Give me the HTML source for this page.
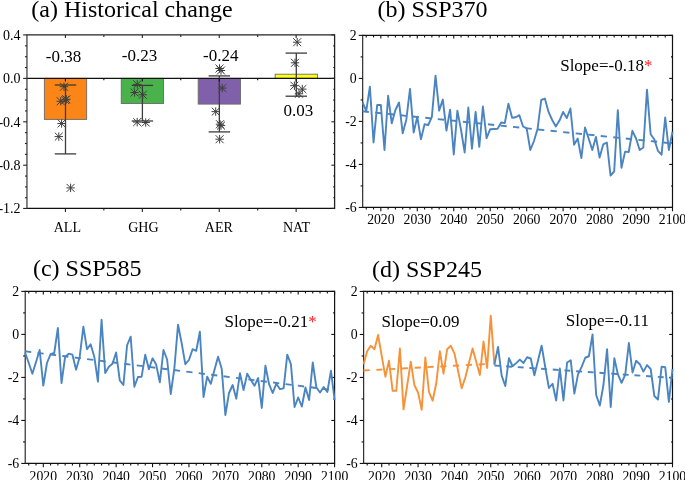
<!DOCTYPE html>
<html><head><meta charset="utf-8"><style>
html,body{margin:0;padding:0;background:#fff;}
body{width:685px;height:480px;overflow:hidden;}
svg{display:block;font-family:"Liberation Serif", serif;will-change:transform;}
</style></head><body>
<svg width="685" height="480" viewBox="0 0 685 480">
<rect x="44.35" y="78.40" width="42.30" height="41.00" fill="#fb8617" stroke="#6a6a6a" stroke-width="0.9"/>
<rect x="121.25" y="78.40" width="42.30" height="25.10" fill="#4ab24a" stroke="#6a6a6a" stroke-width="0.9"/>
<rect x="198.20" y="78.40" width="42.30" height="25.70" fill="#8060aa" stroke="#6a6a6a" stroke-width="0.9"/>
<rect x="275.15" y="74.20" width="42.30" height="4.20" fill="#ffff1a" stroke="#6a6a6a" stroke-width="0.9"/>
<line x1="26.95" y1="78.40" x2="334.60" y2="78.40" stroke="#111" stroke-width="1.2" />
<line x1="65.50" y1="85.00" x2="65.50" y2="153.90" stroke="#3c3c3c" stroke-width="1.3" />
<line x1="54.80" y1="85.00" x2="76.20" y2="85.00" stroke="#3c3c3c" stroke-width="1.3" />
<line x1="54.80" y1="153.90" x2="76.20" y2="153.90" stroke="#3c3c3c" stroke-width="1.3" />
<line x1="142.40" y1="85.40" x2="142.40" y2="121.00" stroke="#3c3c3c" stroke-width="1.3" />
<line x1="131.70" y1="85.40" x2="153.10" y2="85.40" stroke="#3c3c3c" stroke-width="1.3" />
<line x1="131.70" y1="121.00" x2="153.10" y2="121.00" stroke="#3c3c3c" stroke-width="1.3" />
<line x1="219.35" y1="75.90" x2="219.35" y2="131.90" stroke="#3c3c3c" stroke-width="1.3" />
<line x1="208.65" y1="75.90" x2="230.05" y2="75.90" stroke="#3c3c3c" stroke-width="1.3" />
<line x1="208.65" y1="131.90" x2="230.05" y2="131.90" stroke="#3c3c3c" stroke-width="1.3" />
<line x1="296.30" y1="53.10" x2="296.30" y2="96.20" stroke="#3c3c3c" stroke-width="1.3" />
<line x1="285.60" y1="53.10" x2="307.00" y2="53.10" stroke="#3c3c3c" stroke-width="1.3" />
<line x1="285.60" y1="96.20" x2="307.00" y2="96.20" stroke="#3c3c3c" stroke-width="1.3" />
<path d="M59.80 86.70H68.20M64.00 82.50V90.90M60.01 82.71L67.99 90.69M60.01 90.69L67.99 82.71" stroke="#3f3f3f" stroke-width="1" fill="none"/>
<path d="M56.55 101.25H64.95M60.75 97.05V105.45M56.76 97.26L64.74 105.24M56.76 105.24L64.74 97.26" stroke="#3f3f3f" stroke-width="1" fill="none"/>
<path d="M61.10 100.00H69.50M65.30 95.80V104.20M61.31 96.01L69.29 103.99M61.31 103.99L69.29 96.01" stroke="#3f3f3f" stroke-width="1" fill="none"/>
<path d="M62.10 99.30H70.50M66.30 95.10V103.50M62.31 95.31L70.29 103.29M62.31 103.29L70.29 95.31" stroke="#3f3f3f" stroke-width="1" fill="none"/>
<path d="M57.40 123.50H65.80M61.60 119.30V127.70M57.61 119.51L65.59 127.49M57.61 127.49L65.59 119.51" stroke="#3f3f3f" stroke-width="1" fill="none"/>
<path d="M54.60 136.60H63.00M58.80 132.40V140.80M54.81 132.61L62.79 140.59M54.81 140.59L62.79 132.61" stroke="#3f3f3f" stroke-width="1" fill="none"/>
<path d="M66.40 187.90H74.80M70.60 183.70V192.10M66.61 183.91L74.59 191.89M66.61 191.89L74.59 183.91" stroke="#3f3f3f" stroke-width="1" fill="none"/>
<path d="M133.05 84.40H141.45M137.25 80.20V88.60M133.26 80.41L141.24 88.39M133.26 88.39L141.24 80.41" stroke="#3f3f3f" stroke-width="1" fill="none"/>
<path d="M130.40 92.50H138.80M134.60 88.30V96.70M130.61 88.51L138.59 96.49M130.61 96.49L138.59 88.51" stroke="#3f3f3f" stroke-width="1" fill="none"/>
<path d="M138.55 94.75H146.95M142.75 90.55V98.95M138.76 90.76L146.74 98.74M138.76 98.74L146.74 90.76" stroke="#3f3f3f" stroke-width="1" fill="none"/>
<path d="M133.00 122.10H141.40M137.20 117.90V126.30M133.21 118.11L141.19 126.09M133.21 126.09L141.19 118.11" stroke="#3f3f3f" stroke-width="1" fill="none"/>
<path d="M141.50 122.50H149.90M145.70 118.30V126.70M141.71 118.51L149.69 126.49M141.71 126.49L149.69 118.51" stroke="#3f3f3f" stroke-width="1" fill="none"/>
<path d="M215.30 68.50H223.70M219.50 64.30V72.70M215.51 64.51L223.49 72.49M215.51 72.49L223.49 64.51" stroke="#3f3f3f" stroke-width="1" fill="none"/>
<path d="M216.80 70.50H225.20M221.00 66.30V74.70M217.01 66.51L224.99 74.49M217.01 74.49L224.99 66.51" stroke="#3f3f3f" stroke-width="1" fill="none"/>
<path d="M218.10 88.10H226.50M222.30 83.90V92.30M218.31 84.11L226.29 92.09M218.31 92.09L226.29 84.11" stroke="#3f3f3f" stroke-width="1" fill="none"/>
<path d="M211.50 111.60H219.90M215.70 107.40V115.80M211.71 107.61L219.69 115.59M211.71 115.59L219.69 107.61" stroke="#3f3f3f" stroke-width="1" fill="none"/>
<path d="M215.80 124.20H224.20M220.00 120.00V128.40M216.01 120.21L223.99 128.19M216.01 128.19L223.99 120.21" stroke="#3f3f3f" stroke-width="1" fill="none"/>
<path d="M216.80 125.60H225.20M221.00 121.40V129.80M217.01 121.61L224.99 129.59M217.01 129.59L224.99 121.61" stroke="#3f3f3f" stroke-width="1" fill="none"/>
<path d="M215.40 139.20H223.80M219.60 135.00V143.40M215.61 135.21L223.59 143.19M215.61 143.19L223.59 135.21" stroke="#3f3f3f" stroke-width="1" fill="none"/>
<path d="M293.00 42.20H301.40M297.20 38.00V46.40M293.21 38.21L301.19 46.19M293.21 46.19L301.19 38.21" stroke="#3f3f3f" stroke-width="1" fill="none"/>
<path d="M290.80 62.80H299.20M295.00 58.60V67.00M291.01 58.81L298.99 66.79M291.01 66.79L298.99 58.81" stroke="#3f3f3f" stroke-width="1" fill="none"/>
<path d="M290.20 85.70H298.60M294.40 81.50V89.90M290.41 81.71L298.39 89.69M290.41 89.69L298.39 81.71" stroke="#3f3f3f" stroke-width="1" fill="none"/>
<path d="M298.10 89.10H306.50M302.30 84.90V93.30M298.31 85.11L306.29 93.09M298.31 93.09L306.29 85.11" stroke="#3f3f3f" stroke-width="1" fill="none"/>
<path d="M294.80 93.80H303.20M299.00 89.60V98.00M295.01 89.81L302.99 97.79M295.01 97.79L302.99 89.81" stroke="#3f3f3f" stroke-width="1" fill="none"/>
<line x1="26.95" y1="34.90" x2="334.60" y2="34.90" stroke="#222" stroke-width="1.3" />
<line x1="26.95" y1="208.45" x2="334.60" y2="208.45" stroke="#111" stroke-width="1.3" />
<line x1="26.95" y1="34.30" x2="26.95" y2="209.05" stroke="#444" stroke-width="1.3" />
<line x1="334.60" y1="34.30" x2="334.60" y2="209.05" stroke="#222" stroke-width="1.3" />
<line x1="23.15" y1="34.90" x2="26.95" y2="34.90" stroke="#222" stroke-width="1.1" />
<line x1="331.40" y1="34.90" x2="334.60" y2="34.90" stroke="#222" stroke-width="1.1" />
<line x1="24.95" y1="45.85" x2="26.95" y2="45.85" stroke="#222" stroke-width="1.1" />
<line x1="333.20" y1="45.85" x2="334.60" y2="45.85" stroke="#222" stroke-width="1.1" />
<line x1="24.95" y1="56.70" x2="26.95" y2="56.70" stroke="#222" stroke-width="1.1" />
<line x1="333.20" y1="56.70" x2="334.60" y2="56.70" stroke="#222" stroke-width="1.1" />
<line x1="24.95" y1="67.55" x2="26.95" y2="67.55" stroke="#222" stroke-width="1.1" />
<line x1="333.20" y1="67.55" x2="334.60" y2="67.55" stroke="#222" stroke-width="1.1" />
<line x1="23.15" y1="78.40" x2="26.95" y2="78.40" stroke="#222" stroke-width="1.1" />
<line x1="331.40" y1="78.40" x2="334.60" y2="78.40" stroke="#222" stroke-width="1.1" />
<line x1="24.95" y1="89.25" x2="26.95" y2="89.25" stroke="#222" stroke-width="1.1" />
<line x1="333.20" y1="89.25" x2="334.60" y2="89.25" stroke="#222" stroke-width="1.1" />
<line x1="24.95" y1="100.10" x2="26.95" y2="100.10" stroke="#222" stroke-width="1.1" />
<line x1="333.20" y1="100.10" x2="334.60" y2="100.10" stroke="#222" stroke-width="1.1" />
<line x1="24.95" y1="110.95" x2="26.95" y2="110.95" stroke="#222" stroke-width="1.1" />
<line x1="333.20" y1="110.95" x2="334.60" y2="110.95" stroke="#222" stroke-width="1.1" />
<line x1="23.15" y1="121.80" x2="26.95" y2="121.80" stroke="#222" stroke-width="1.1" />
<line x1="331.40" y1="121.80" x2="334.60" y2="121.80" stroke="#222" stroke-width="1.1" />
<line x1="24.95" y1="132.65" x2="26.95" y2="132.65" stroke="#222" stroke-width="1.1" />
<line x1="333.20" y1="132.65" x2="334.60" y2="132.65" stroke="#222" stroke-width="1.1" />
<line x1="24.95" y1="143.50" x2="26.95" y2="143.50" stroke="#222" stroke-width="1.1" />
<line x1="333.20" y1="143.50" x2="334.60" y2="143.50" stroke="#222" stroke-width="1.1" />
<line x1="24.95" y1="154.35" x2="26.95" y2="154.35" stroke="#222" stroke-width="1.1" />
<line x1="333.20" y1="154.35" x2="334.60" y2="154.35" stroke="#222" stroke-width="1.1" />
<line x1="23.15" y1="165.20" x2="26.95" y2="165.20" stroke="#222" stroke-width="1.1" />
<line x1="331.40" y1="165.20" x2="334.60" y2="165.20" stroke="#222" stroke-width="1.1" />
<line x1="24.95" y1="176.05" x2="26.95" y2="176.05" stroke="#222" stroke-width="1.1" />
<line x1="333.20" y1="176.05" x2="334.60" y2="176.05" stroke="#222" stroke-width="1.1" />
<line x1="24.95" y1="186.90" x2="26.95" y2="186.90" stroke="#222" stroke-width="1.1" />
<line x1="333.20" y1="186.90" x2="334.60" y2="186.90" stroke="#222" stroke-width="1.1" />
<line x1="24.95" y1="197.75" x2="26.95" y2="197.75" stroke="#222" stroke-width="1.1" />
<line x1="333.20" y1="197.75" x2="334.60" y2="197.75" stroke="#222" stroke-width="1.1" />
<line x1="23.15" y1="208.45" x2="26.95" y2="208.45" stroke="#222" stroke-width="1.1" />
<line x1="331.40" y1="208.45" x2="334.60" y2="208.45" stroke="#222" stroke-width="1.1" />
<line x1="65.41" y1="208.45" x2="65.41" y2="212.05" stroke="#222" stroke-width="1.1" />
<line x1="65.41" y1="34.90" x2="65.41" y2="37.90" stroke="#222" stroke-width="1.1" />
<line x1="65.41" y1="78.40" x2="65.41" y2="81.60" stroke="#111" stroke-width="1.1" />
<line x1="142.32" y1="208.45" x2="142.32" y2="212.05" stroke="#222" stroke-width="1.1" />
<line x1="142.32" y1="34.90" x2="142.32" y2="37.90" stroke="#222" stroke-width="1.1" />
<line x1="142.32" y1="78.40" x2="142.32" y2="81.60" stroke="#111" stroke-width="1.1" />
<line x1="219.23" y1="208.45" x2="219.23" y2="212.05" stroke="#222" stroke-width="1.1" />
<line x1="219.23" y1="34.90" x2="219.23" y2="37.90" stroke="#222" stroke-width="1.1" />
<line x1="219.23" y1="78.40" x2="219.23" y2="81.60" stroke="#111" stroke-width="1.1" />
<line x1="296.14" y1="208.45" x2="296.14" y2="212.05" stroke="#222" stroke-width="1.1" />
<line x1="296.14" y1="34.90" x2="296.14" y2="37.90" stroke="#222" stroke-width="1.1" />
<line x1="296.14" y1="78.40" x2="296.14" y2="81.60" stroke="#111" stroke-width="1.1" />
<line x1="103.86" y1="208.45" x2="103.86" y2="210.45" stroke="#222" stroke-width="1.1" />
<line x1="103.86" y1="34.90" x2="103.86" y2="36.90" stroke="#222" stroke-width="1.1" />
<line x1="103.86" y1="78.40" x2="103.86" y2="80.20" stroke="#111" stroke-width="1.1" />
<line x1="180.78" y1="208.45" x2="180.78" y2="210.45" stroke="#222" stroke-width="1.1" />
<line x1="180.78" y1="34.90" x2="180.78" y2="36.90" stroke="#222" stroke-width="1.1" />
<line x1="180.78" y1="78.40" x2="180.78" y2="80.20" stroke="#111" stroke-width="1.1" />
<line x1="257.69" y1="208.45" x2="257.69" y2="210.45" stroke="#222" stroke-width="1.1" />
<line x1="257.69" y1="34.90" x2="257.69" y2="36.90" stroke="#222" stroke-width="1.1" />
<line x1="257.69" y1="78.40" x2="257.69" y2="80.20" stroke="#111" stroke-width="1.1" />
<text x="20.60" y="39.60" font-size="14" text-anchor="end" fill="#000" >0.4</text>
<text x="20.60" y="83.10" font-size="14" text-anchor="end" fill="#000" >0.0</text>
<text x="20.60" y="126.50" font-size="14" text-anchor="end" fill="#000" >-0.4</text>
<text x="20.60" y="169.90" font-size="14" text-anchor="end" fill="#000" >-0.8</text>
<text x="20.60" y="213.15" font-size="14" text-anchor="end" fill="#000" >-1.2</text>
<text x="67.35" y="232.20" font-size="14" text-anchor="middle" fill="#000" >ALL</text>
<text x="143.40" y="232.20" font-size="14" text-anchor="middle" fill="#000" >GHG</text>
<text x="218.85" y="232.20" font-size="14" text-anchor="middle" fill="#000" >AER</text>
<text x="296.50" y="232.20" font-size="14" text-anchor="middle" fill="#000" >NAT</text>
<text x="63.45" y="61.60" font-size="17" text-anchor="middle" fill="#000" >-0.38</text>
<text x="139.45" y="61.30" font-size="17" text-anchor="middle" fill="#000" >-0.23</text>
<text x="220.75" y="61.10" font-size="17" text-anchor="middle" fill="#000" >-0.24</text>
<text x="298.40" y="115.80" font-size="17" text-anchor="middle" fill="#000" >0.03</text>
<text x="31.30" y="16.60" font-size="24" text-anchor="start" fill="#000" >(a) Historical change</text>
<line x1="362.60" y1="35.40" x2="672.50" y2="35.40" stroke="#111" stroke-width="1.2" />
<line x1="362.60" y1="207.45" x2="672.50" y2="207.45" stroke="#111" stroke-width="1.2" />
<line x1="362.70" y1="34.80" x2="362.70" y2="208.05" stroke="#1a1a1a" stroke-width="1.1" />
<line x1="672.50" y1="34.80" x2="672.50" y2="208.05" stroke="#111" stroke-width="1.2" />
<line x1="358.80" y1="35.40" x2="362.60" y2="35.40" stroke="#111" stroke-width="1.1" />
<line x1="669.20" y1="35.40" x2="672.50" y2="35.40" stroke="#111" stroke-width="1.1" />
<line x1="360.60" y1="56.91" x2="362.60" y2="56.91" stroke="#111" stroke-width="1.1" />
<line x1="671.00" y1="56.91" x2="672.50" y2="56.91" stroke="#111" stroke-width="1.1" />
<line x1="358.80" y1="78.41" x2="362.60" y2="78.41" stroke="#111" stroke-width="1.1" />
<line x1="669.20" y1="78.41" x2="672.50" y2="78.41" stroke="#111" stroke-width="1.1" />
<line x1="360.60" y1="99.92" x2="362.60" y2="99.92" stroke="#111" stroke-width="1.1" />
<line x1="671.00" y1="99.92" x2="672.50" y2="99.92" stroke="#111" stroke-width="1.1" />
<line x1="358.80" y1="121.42" x2="362.60" y2="121.42" stroke="#111" stroke-width="1.1" />
<line x1="669.20" y1="121.42" x2="672.50" y2="121.42" stroke="#111" stroke-width="1.1" />
<line x1="360.60" y1="142.93" x2="362.60" y2="142.93" stroke="#111" stroke-width="1.1" />
<line x1="671.00" y1="142.93" x2="672.50" y2="142.93" stroke="#111" stroke-width="1.1" />
<line x1="358.80" y1="164.44" x2="362.60" y2="164.44" stroke="#111" stroke-width="1.1" />
<line x1="669.20" y1="164.44" x2="672.50" y2="164.44" stroke="#111" stroke-width="1.1" />
<line x1="360.60" y1="185.94" x2="362.60" y2="185.94" stroke="#111" stroke-width="1.1" />
<line x1="671.00" y1="185.94" x2="672.50" y2="185.94" stroke="#111" stroke-width="1.1" />
<line x1="358.80" y1="207.45" x2="362.60" y2="207.45" stroke="#111" stroke-width="1.1" />
<line x1="669.20" y1="207.45" x2="672.50" y2="207.45" stroke="#111" stroke-width="1.1" />
<line x1="366.25" y1="207.45" x2="366.25" y2="209.45" stroke="#111" stroke-width="1.1" />
<line x1="366.25" y1="35.40" x2="366.25" y2="37.40" stroke="#111" stroke-width="1.1" />
<line x1="373.54" y1="207.45" x2="373.54" y2="209.45" stroke="#111" stroke-width="1.1" />
<line x1="373.54" y1="35.40" x2="373.54" y2="37.40" stroke="#111" stroke-width="1.1" />
<line x1="380.83" y1="207.45" x2="380.83" y2="211.25" stroke="#111" stroke-width="1.1" />
<line x1="380.83" y1="35.40" x2="380.83" y2="38.40" stroke="#111" stroke-width="1.1" />
<line x1="388.12" y1="207.45" x2="388.12" y2="209.45" stroke="#111" stroke-width="1.1" />
<line x1="388.12" y1="35.40" x2="388.12" y2="37.40" stroke="#111" stroke-width="1.1" />
<line x1="395.41" y1="207.45" x2="395.41" y2="209.45" stroke="#111" stroke-width="1.1" />
<line x1="395.41" y1="35.40" x2="395.41" y2="37.40" stroke="#111" stroke-width="1.1" />
<line x1="402.70" y1="207.45" x2="402.70" y2="209.45" stroke="#111" stroke-width="1.1" />
<line x1="402.70" y1="35.40" x2="402.70" y2="37.40" stroke="#111" stroke-width="1.1" />
<line x1="410.00" y1="207.45" x2="410.00" y2="209.45" stroke="#111" stroke-width="1.1" />
<line x1="410.00" y1="35.40" x2="410.00" y2="37.40" stroke="#111" stroke-width="1.1" />
<line x1="417.29" y1="207.45" x2="417.29" y2="211.25" stroke="#111" stroke-width="1.1" />
<line x1="417.29" y1="35.40" x2="417.29" y2="38.40" stroke="#111" stroke-width="1.1" />
<line x1="424.58" y1="207.45" x2="424.58" y2="209.45" stroke="#111" stroke-width="1.1" />
<line x1="424.58" y1="35.40" x2="424.58" y2="37.40" stroke="#111" stroke-width="1.1" />
<line x1="431.87" y1="207.45" x2="431.87" y2="209.45" stroke="#111" stroke-width="1.1" />
<line x1="431.87" y1="35.40" x2="431.87" y2="37.40" stroke="#111" stroke-width="1.1" />
<line x1="439.16" y1="207.45" x2="439.16" y2="209.45" stroke="#111" stroke-width="1.1" />
<line x1="439.16" y1="35.40" x2="439.16" y2="37.40" stroke="#111" stroke-width="1.1" />
<line x1="446.46" y1="207.45" x2="446.46" y2="209.45" stroke="#111" stroke-width="1.1" />
<line x1="446.46" y1="35.40" x2="446.46" y2="37.40" stroke="#111" stroke-width="1.1" />
<line x1="453.75" y1="207.45" x2="453.75" y2="211.25" stroke="#111" stroke-width="1.1" />
<line x1="453.75" y1="35.40" x2="453.75" y2="38.40" stroke="#111" stroke-width="1.1" />
<line x1="461.04" y1="207.45" x2="461.04" y2="209.45" stroke="#111" stroke-width="1.1" />
<line x1="461.04" y1="35.40" x2="461.04" y2="37.40" stroke="#111" stroke-width="1.1" />
<line x1="468.33" y1="207.45" x2="468.33" y2="209.45" stroke="#111" stroke-width="1.1" />
<line x1="468.33" y1="35.40" x2="468.33" y2="37.40" stroke="#111" stroke-width="1.1" />
<line x1="475.62" y1="207.45" x2="475.62" y2="209.45" stroke="#111" stroke-width="1.1" />
<line x1="475.62" y1="35.40" x2="475.62" y2="37.40" stroke="#111" stroke-width="1.1" />
<line x1="482.91" y1="207.45" x2="482.91" y2="209.45" stroke="#111" stroke-width="1.1" />
<line x1="482.91" y1="35.40" x2="482.91" y2="37.40" stroke="#111" stroke-width="1.1" />
<line x1="490.21" y1="207.45" x2="490.21" y2="211.25" stroke="#111" stroke-width="1.1" />
<line x1="490.21" y1="35.40" x2="490.21" y2="38.40" stroke="#111" stroke-width="1.1" />
<line x1="497.50" y1="207.45" x2="497.50" y2="209.45" stroke="#111" stroke-width="1.1" />
<line x1="497.50" y1="35.40" x2="497.50" y2="37.40" stroke="#111" stroke-width="1.1" />
<line x1="504.79" y1="207.45" x2="504.79" y2="209.45" stroke="#111" stroke-width="1.1" />
<line x1="504.79" y1="35.40" x2="504.79" y2="37.40" stroke="#111" stroke-width="1.1" />
<line x1="512.08" y1="207.45" x2="512.08" y2="209.45" stroke="#111" stroke-width="1.1" />
<line x1="512.08" y1="35.40" x2="512.08" y2="37.40" stroke="#111" stroke-width="1.1" />
<line x1="519.37" y1="207.45" x2="519.37" y2="209.45" stroke="#111" stroke-width="1.1" />
<line x1="519.37" y1="35.40" x2="519.37" y2="37.40" stroke="#111" stroke-width="1.1" />
<line x1="526.66" y1="207.45" x2="526.66" y2="211.25" stroke="#111" stroke-width="1.1" />
<line x1="526.66" y1="35.40" x2="526.66" y2="38.40" stroke="#111" stroke-width="1.1" />
<line x1="533.96" y1="207.45" x2="533.96" y2="209.45" stroke="#111" stroke-width="1.1" />
<line x1="533.96" y1="35.40" x2="533.96" y2="37.40" stroke="#111" stroke-width="1.1" />
<line x1="541.25" y1="207.45" x2="541.25" y2="209.45" stroke="#111" stroke-width="1.1" />
<line x1="541.25" y1="35.40" x2="541.25" y2="37.40" stroke="#111" stroke-width="1.1" />
<line x1="548.54" y1="207.45" x2="548.54" y2="209.45" stroke="#111" stroke-width="1.1" />
<line x1="548.54" y1="35.40" x2="548.54" y2="37.40" stroke="#111" stroke-width="1.1" />
<line x1="555.83" y1="207.45" x2="555.83" y2="209.45" stroke="#111" stroke-width="1.1" />
<line x1="555.83" y1="35.40" x2="555.83" y2="37.40" stroke="#111" stroke-width="1.1" />
<line x1="563.12" y1="207.45" x2="563.12" y2="211.25" stroke="#111" stroke-width="1.1" />
<line x1="563.12" y1="35.40" x2="563.12" y2="38.40" stroke="#111" stroke-width="1.1" />
<line x1="570.42" y1="207.45" x2="570.42" y2="209.45" stroke="#111" stroke-width="1.1" />
<line x1="570.42" y1="35.40" x2="570.42" y2="37.40" stroke="#111" stroke-width="1.1" />
<line x1="577.71" y1="207.45" x2="577.71" y2="209.45" stroke="#111" stroke-width="1.1" />
<line x1="577.71" y1="35.40" x2="577.71" y2="37.40" stroke="#111" stroke-width="1.1" />
<line x1="585.00" y1="207.45" x2="585.00" y2="209.45" stroke="#111" stroke-width="1.1" />
<line x1="585.00" y1="35.40" x2="585.00" y2="37.40" stroke="#111" stroke-width="1.1" />
<line x1="592.29" y1="207.45" x2="592.29" y2="209.45" stroke="#111" stroke-width="1.1" />
<line x1="592.29" y1="35.40" x2="592.29" y2="37.40" stroke="#111" stroke-width="1.1" />
<line x1="599.58" y1="207.45" x2="599.58" y2="211.25" stroke="#111" stroke-width="1.1" />
<line x1="599.58" y1="35.40" x2="599.58" y2="38.40" stroke="#111" stroke-width="1.1" />
<line x1="606.87" y1="207.45" x2="606.87" y2="209.45" stroke="#111" stroke-width="1.1" />
<line x1="606.87" y1="35.40" x2="606.87" y2="37.40" stroke="#111" stroke-width="1.1" />
<line x1="614.17" y1="207.45" x2="614.17" y2="209.45" stroke="#111" stroke-width="1.1" />
<line x1="614.17" y1="35.40" x2="614.17" y2="37.40" stroke="#111" stroke-width="1.1" />
<line x1="621.46" y1="207.45" x2="621.46" y2="209.45" stroke="#111" stroke-width="1.1" />
<line x1="621.46" y1="35.40" x2="621.46" y2="37.40" stroke="#111" stroke-width="1.1" />
<line x1="628.75" y1="207.45" x2="628.75" y2="209.45" stroke="#111" stroke-width="1.1" />
<line x1="628.75" y1="35.40" x2="628.75" y2="37.40" stroke="#111" stroke-width="1.1" />
<line x1="636.04" y1="207.45" x2="636.04" y2="211.25" stroke="#111" stroke-width="1.1" />
<line x1="636.04" y1="35.40" x2="636.04" y2="38.40" stroke="#111" stroke-width="1.1" />
<line x1="643.33" y1="207.45" x2="643.33" y2="209.45" stroke="#111" stroke-width="1.1" />
<line x1="643.33" y1="35.40" x2="643.33" y2="37.40" stroke="#111" stroke-width="1.1" />
<line x1="650.62" y1="207.45" x2="650.62" y2="209.45" stroke="#111" stroke-width="1.1" />
<line x1="650.62" y1="35.40" x2="650.62" y2="37.40" stroke="#111" stroke-width="1.1" />
<line x1="657.92" y1="207.45" x2="657.92" y2="209.45" stroke="#111" stroke-width="1.1" />
<line x1="657.92" y1="35.40" x2="657.92" y2="37.40" stroke="#111" stroke-width="1.1" />
<line x1="665.21" y1="207.45" x2="665.21" y2="209.45" stroke="#111" stroke-width="1.1" />
<line x1="665.21" y1="35.40" x2="665.21" y2="37.40" stroke="#111" stroke-width="1.1" />
<line x1="672.50" y1="207.45" x2="672.50" y2="211.25" stroke="#111" stroke-width="1.1" />
<line x1="672.50" y1="35.40" x2="672.50" y2="38.40" stroke="#111" stroke-width="1.1" />
<text x="356.70" y="39.70" font-size="13.8" text-anchor="end" fill="#000" >2</text>
<text x="356.70" y="82.71" font-size="13.8" text-anchor="end" fill="#000" >0</text>
<text x="356.70" y="125.72" font-size="13.8" text-anchor="end" fill="#000" >-2</text>
<text x="356.70" y="168.74" font-size="13.8" text-anchor="end" fill="#000" >-4</text>
<text x="356.70" y="211.75" font-size="13.8" text-anchor="end" fill="#000" >-6</text>
<text x="380.83" y="224.25" font-size="13.7" text-anchor="middle" fill="#000" >2020</text>
<text x="417.29" y="224.25" font-size="13.7" text-anchor="middle" fill="#000" >2030</text>
<text x="453.75" y="224.25" font-size="13.7" text-anchor="middle" fill="#000" >2040</text>
<text x="490.21" y="224.25" font-size="13.7" text-anchor="middle" fill="#000" >2050</text>
<text x="526.66" y="224.25" font-size="13.7" text-anchor="middle" fill="#000" >2060</text>
<text x="563.12" y="224.25" font-size="13.7" text-anchor="middle" fill="#000" >2070</text>
<text x="599.58" y="224.25" font-size="13.7" text-anchor="middle" fill="#000" >2080</text>
<text x="636.04" y="224.25" font-size="13.7" text-anchor="middle" fill="#000" >2090</text>
<text x="672.50" y="224.25" font-size="13.7" text-anchor="middle" fill="#000" >2100</text>
<text x="377.60" y="16.90" font-size="24" text-anchor="start" fill="#000" >(b) SSP370</text>
<polyline points="362.60,102.50 366.25,110.80 369.89,86.70 373.54,142.50 377.18,105.00 380.83,105.00 384.48,150.00 388.12,95.80 391.77,123.30 395.41,110.00 399.06,102.50 402.70,133.20 406.35,119.40 410.00,88.90 413.64,132.50 417.29,116.80 420.93,139.30 424.58,124.30 428.23,125.00 431.87,116.90 435.52,75.60 439.16,110.60 442.81,99.60 446.46,130.60 450.10,109.60 453.75,154.50 457.39,110.60 461.04,130.00 464.68,152.50 468.33,107.50 471.98,148.75 475.62,111.90 479.27,146.90 482.91,106.50 486.56,138.10 490.21,129.20 493.85,129.00 497.50,128.90 501.14,122.50 504.79,123.10 508.44,103.75 512.08,117.75 515.73,117.25 519.37,115.20 523.02,126.50 526.66,128.30 530.31,150.00 533.96,141.00 537.60,128.75 541.25,100.00 544.89,98.60 548.54,111.90 552.19,120.00 555.83,126.50 559.48,120.60 563.12,111.90 566.77,118.10 570.42,108.50 574.06,144.70 577.71,138.60 581.35,158.10 585.00,127.50 588.64,138.50 592.29,150.00 595.94,136.90 599.58,157.50 603.23,144.40 606.87,142.50 610.52,175.50 614.17,171.50 617.81,110.30 621.46,167.80 625.10,151.60 628.75,152.00 632.40,130.80 636.04,138.50 639.69,150.00 643.33,147.50 646.98,89.70 650.62,134.20 654.27,139.20 657.92,150.80 661.56,154.70 665.21,117.50 668.85,150.00 672.50,131.70" fill="none" stroke="#4a84c1" stroke-width="1.9" stroke-linejoin="round" stroke-linecap="butt" />
<polyline points="362.60,111.30 672.50,143.40" fill="none" stroke="#4a84c1" stroke-width="1.9" stroke-linejoin="round" stroke-linecap="butt" stroke-dasharray="6.3,6.3"/>
<text x="560.20" y="71.00" font-size="17" text-anchor="start" fill="#000" >Slope=-0.18<tspan fill="#ff2020">*</tspan></text>
<line x1="25.10" y1="291.40" x2="334.60" y2="291.40" stroke="#111" stroke-width="1.2" />
<line x1="25.10" y1="463.45" x2="334.60" y2="463.45" stroke="#111" stroke-width="1.2" />
<line x1="25.20" y1="290.80" x2="25.20" y2="464.05" stroke="#1a1a1a" stroke-width="1.1" />
<line x1="334.60" y1="290.80" x2="334.60" y2="464.05" stroke="#111" stroke-width="1.2" />
<line x1="21.30" y1="291.40" x2="25.10" y2="291.40" stroke="#111" stroke-width="1.1" />
<line x1="331.30" y1="291.40" x2="334.60" y2="291.40" stroke="#111" stroke-width="1.1" />
<line x1="23.10" y1="312.91" x2="25.10" y2="312.91" stroke="#111" stroke-width="1.1" />
<line x1="333.10" y1="312.91" x2="334.60" y2="312.91" stroke="#111" stroke-width="1.1" />
<line x1="21.30" y1="334.41" x2="25.10" y2="334.41" stroke="#111" stroke-width="1.1" />
<line x1="331.30" y1="334.41" x2="334.60" y2="334.41" stroke="#111" stroke-width="1.1" />
<line x1="23.10" y1="355.92" x2="25.10" y2="355.92" stroke="#111" stroke-width="1.1" />
<line x1="333.10" y1="355.92" x2="334.60" y2="355.92" stroke="#111" stroke-width="1.1" />
<line x1="21.30" y1="377.42" x2="25.10" y2="377.42" stroke="#111" stroke-width="1.1" />
<line x1="331.30" y1="377.42" x2="334.60" y2="377.42" stroke="#111" stroke-width="1.1" />
<line x1="23.10" y1="398.93" x2="25.10" y2="398.93" stroke="#111" stroke-width="1.1" />
<line x1="333.10" y1="398.93" x2="334.60" y2="398.93" stroke="#111" stroke-width="1.1" />
<line x1="21.30" y1="420.44" x2="25.10" y2="420.44" stroke="#111" stroke-width="1.1" />
<line x1="331.30" y1="420.44" x2="334.60" y2="420.44" stroke="#111" stroke-width="1.1" />
<line x1="23.10" y1="441.94" x2="25.10" y2="441.94" stroke="#111" stroke-width="1.1" />
<line x1="333.10" y1="441.94" x2="334.60" y2="441.94" stroke="#111" stroke-width="1.1" />
<line x1="21.30" y1="463.45" x2="25.10" y2="463.45" stroke="#111" stroke-width="1.1" />
<line x1="331.30" y1="463.45" x2="334.60" y2="463.45" stroke="#111" stroke-width="1.1" />
<line x1="28.74" y1="463.45" x2="28.74" y2="465.45" stroke="#111" stroke-width="1.1" />
<line x1="28.74" y1="291.40" x2="28.74" y2="293.40" stroke="#111" stroke-width="1.1" />
<line x1="36.02" y1="463.45" x2="36.02" y2="465.45" stroke="#111" stroke-width="1.1" />
<line x1="36.02" y1="291.40" x2="36.02" y2="293.40" stroke="#111" stroke-width="1.1" />
<line x1="43.31" y1="463.45" x2="43.31" y2="467.25" stroke="#111" stroke-width="1.1" />
<line x1="43.31" y1="291.40" x2="43.31" y2="294.40" stroke="#111" stroke-width="1.1" />
<line x1="50.59" y1="463.45" x2="50.59" y2="465.45" stroke="#111" stroke-width="1.1" />
<line x1="50.59" y1="291.40" x2="50.59" y2="293.40" stroke="#111" stroke-width="1.1" />
<line x1="57.87" y1="463.45" x2="57.87" y2="465.45" stroke="#111" stroke-width="1.1" />
<line x1="57.87" y1="291.40" x2="57.87" y2="293.40" stroke="#111" stroke-width="1.1" />
<line x1="65.15" y1="463.45" x2="65.15" y2="465.45" stroke="#111" stroke-width="1.1" />
<line x1="65.15" y1="291.40" x2="65.15" y2="293.40" stroke="#111" stroke-width="1.1" />
<line x1="72.44" y1="463.45" x2="72.44" y2="465.45" stroke="#111" stroke-width="1.1" />
<line x1="72.44" y1="291.40" x2="72.44" y2="293.40" stroke="#111" stroke-width="1.1" />
<line x1="79.72" y1="463.45" x2="79.72" y2="467.25" stroke="#111" stroke-width="1.1" />
<line x1="79.72" y1="291.40" x2="79.72" y2="294.40" stroke="#111" stroke-width="1.1" />
<line x1="87.00" y1="463.45" x2="87.00" y2="465.45" stroke="#111" stroke-width="1.1" />
<line x1="87.00" y1="291.40" x2="87.00" y2="293.40" stroke="#111" stroke-width="1.1" />
<line x1="94.28" y1="463.45" x2="94.28" y2="465.45" stroke="#111" stroke-width="1.1" />
<line x1="94.28" y1="291.40" x2="94.28" y2="293.40" stroke="#111" stroke-width="1.1" />
<line x1="101.56" y1="463.45" x2="101.56" y2="465.45" stroke="#111" stroke-width="1.1" />
<line x1="101.56" y1="291.40" x2="101.56" y2="293.40" stroke="#111" stroke-width="1.1" />
<line x1="108.85" y1="463.45" x2="108.85" y2="465.45" stroke="#111" stroke-width="1.1" />
<line x1="108.85" y1="291.40" x2="108.85" y2="293.40" stroke="#111" stroke-width="1.1" />
<line x1="116.13" y1="463.45" x2="116.13" y2="467.25" stroke="#111" stroke-width="1.1" />
<line x1="116.13" y1="291.40" x2="116.13" y2="294.40" stroke="#111" stroke-width="1.1" />
<line x1="123.41" y1="463.45" x2="123.41" y2="465.45" stroke="#111" stroke-width="1.1" />
<line x1="123.41" y1="291.40" x2="123.41" y2="293.40" stroke="#111" stroke-width="1.1" />
<line x1="130.69" y1="463.45" x2="130.69" y2="465.45" stroke="#111" stroke-width="1.1" />
<line x1="130.69" y1="291.40" x2="130.69" y2="293.40" stroke="#111" stroke-width="1.1" />
<line x1="137.98" y1="463.45" x2="137.98" y2="465.45" stroke="#111" stroke-width="1.1" />
<line x1="137.98" y1="291.40" x2="137.98" y2="293.40" stroke="#111" stroke-width="1.1" />
<line x1="145.26" y1="463.45" x2="145.26" y2="465.45" stroke="#111" stroke-width="1.1" />
<line x1="145.26" y1="291.40" x2="145.26" y2="293.40" stroke="#111" stroke-width="1.1" />
<line x1="152.54" y1="463.45" x2="152.54" y2="467.25" stroke="#111" stroke-width="1.1" />
<line x1="152.54" y1="291.40" x2="152.54" y2="294.40" stroke="#111" stroke-width="1.1" />
<line x1="159.82" y1="463.45" x2="159.82" y2="465.45" stroke="#111" stroke-width="1.1" />
<line x1="159.82" y1="291.40" x2="159.82" y2="293.40" stroke="#111" stroke-width="1.1" />
<line x1="167.11" y1="463.45" x2="167.11" y2="465.45" stroke="#111" stroke-width="1.1" />
<line x1="167.11" y1="291.40" x2="167.11" y2="293.40" stroke="#111" stroke-width="1.1" />
<line x1="174.39" y1="463.45" x2="174.39" y2="465.45" stroke="#111" stroke-width="1.1" />
<line x1="174.39" y1="291.40" x2="174.39" y2="293.40" stroke="#111" stroke-width="1.1" />
<line x1="181.67" y1="463.45" x2="181.67" y2="465.45" stroke="#111" stroke-width="1.1" />
<line x1="181.67" y1="291.40" x2="181.67" y2="293.40" stroke="#111" stroke-width="1.1" />
<line x1="188.95" y1="463.45" x2="188.95" y2="467.25" stroke="#111" stroke-width="1.1" />
<line x1="188.95" y1="291.40" x2="188.95" y2="294.40" stroke="#111" stroke-width="1.1" />
<line x1="196.24" y1="463.45" x2="196.24" y2="465.45" stroke="#111" stroke-width="1.1" />
<line x1="196.24" y1="291.40" x2="196.24" y2="293.40" stroke="#111" stroke-width="1.1" />
<line x1="203.52" y1="463.45" x2="203.52" y2="465.45" stroke="#111" stroke-width="1.1" />
<line x1="203.52" y1="291.40" x2="203.52" y2="293.40" stroke="#111" stroke-width="1.1" />
<line x1="210.80" y1="463.45" x2="210.80" y2="465.45" stroke="#111" stroke-width="1.1" />
<line x1="210.80" y1="291.40" x2="210.80" y2="293.40" stroke="#111" stroke-width="1.1" />
<line x1="218.08" y1="463.45" x2="218.08" y2="465.45" stroke="#111" stroke-width="1.1" />
<line x1="218.08" y1="291.40" x2="218.08" y2="293.40" stroke="#111" stroke-width="1.1" />
<line x1="225.36" y1="463.45" x2="225.36" y2="467.25" stroke="#111" stroke-width="1.1" />
<line x1="225.36" y1="291.40" x2="225.36" y2="294.40" stroke="#111" stroke-width="1.1" />
<line x1="232.65" y1="463.45" x2="232.65" y2="465.45" stroke="#111" stroke-width="1.1" />
<line x1="232.65" y1="291.40" x2="232.65" y2="293.40" stroke="#111" stroke-width="1.1" />
<line x1="239.93" y1="463.45" x2="239.93" y2="465.45" stroke="#111" stroke-width="1.1" />
<line x1="239.93" y1="291.40" x2="239.93" y2="293.40" stroke="#111" stroke-width="1.1" />
<line x1="247.21" y1="463.45" x2="247.21" y2="465.45" stroke="#111" stroke-width="1.1" />
<line x1="247.21" y1="291.40" x2="247.21" y2="293.40" stroke="#111" stroke-width="1.1" />
<line x1="254.49" y1="463.45" x2="254.49" y2="465.45" stroke="#111" stroke-width="1.1" />
<line x1="254.49" y1="291.40" x2="254.49" y2="293.40" stroke="#111" stroke-width="1.1" />
<line x1="261.78" y1="463.45" x2="261.78" y2="467.25" stroke="#111" stroke-width="1.1" />
<line x1="261.78" y1="291.40" x2="261.78" y2="294.40" stroke="#111" stroke-width="1.1" />
<line x1="269.06" y1="463.45" x2="269.06" y2="465.45" stroke="#111" stroke-width="1.1" />
<line x1="269.06" y1="291.40" x2="269.06" y2="293.40" stroke="#111" stroke-width="1.1" />
<line x1="276.34" y1="463.45" x2="276.34" y2="465.45" stroke="#111" stroke-width="1.1" />
<line x1="276.34" y1="291.40" x2="276.34" y2="293.40" stroke="#111" stroke-width="1.1" />
<line x1="283.62" y1="463.45" x2="283.62" y2="465.45" stroke="#111" stroke-width="1.1" />
<line x1="283.62" y1="291.40" x2="283.62" y2="293.40" stroke="#111" stroke-width="1.1" />
<line x1="290.91" y1="463.45" x2="290.91" y2="465.45" stroke="#111" stroke-width="1.1" />
<line x1="290.91" y1="291.40" x2="290.91" y2="293.40" stroke="#111" stroke-width="1.1" />
<line x1="298.19" y1="463.45" x2="298.19" y2="467.25" stroke="#111" stroke-width="1.1" />
<line x1="298.19" y1="291.40" x2="298.19" y2="294.40" stroke="#111" stroke-width="1.1" />
<line x1="305.47" y1="463.45" x2="305.47" y2="465.45" stroke="#111" stroke-width="1.1" />
<line x1="305.47" y1="291.40" x2="305.47" y2="293.40" stroke="#111" stroke-width="1.1" />
<line x1="312.75" y1="463.45" x2="312.75" y2="465.45" stroke="#111" stroke-width="1.1" />
<line x1="312.75" y1="291.40" x2="312.75" y2="293.40" stroke="#111" stroke-width="1.1" />
<line x1="320.04" y1="463.45" x2="320.04" y2="465.45" stroke="#111" stroke-width="1.1" />
<line x1="320.04" y1="291.40" x2="320.04" y2="293.40" stroke="#111" stroke-width="1.1" />
<line x1="327.32" y1="463.45" x2="327.32" y2="465.45" stroke="#111" stroke-width="1.1" />
<line x1="327.32" y1="291.40" x2="327.32" y2="293.40" stroke="#111" stroke-width="1.1" />
<line x1="334.60" y1="463.45" x2="334.60" y2="467.25" stroke="#111" stroke-width="1.1" />
<line x1="334.60" y1="291.40" x2="334.60" y2="294.40" stroke="#111" stroke-width="1.1" />
<text x="19.20" y="295.70" font-size="13.8" text-anchor="end" fill="#000" >2</text>
<text x="19.20" y="338.71" font-size="13.8" text-anchor="end" fill="#000" >0</text>
<text x="19.20" y="381.72" font-size="13.8" text-anchor="end" fill="#000" >-2</text>
<text x="19.20" y="424.74" font-size="13.8" text-anchor="end" fill="#000" >-4</text>
<text x="19.20" y="467.75" font-size="13.8" text-anchor="end" fill="#000" >-6</text>
<text x="43.31" y="481.25" font-size="13.7" text-anchor="middle" fill="#000" >2020</text>
<text x="79.72" y="481.25" font-size="13.7" text-anchor="middle" fill="#000" >2030</text>
<text x="116.13" y="481.25" font-size="13.7" text-anchor="middle" fill="#000" >2040</text>
<text x="152.54" y="481.25" font-size="13.7" text-anchor="middle" fill="#000" >2050</text>
<text x="188.95" y="481.25" font-size="13.7" text-anchor="middle" fill="#000" >2060</text>
<text x="225.36" y="481.25" font-size="13.7" text-anchor="middle" fill="#000" >2070</text>
<text x="261.78" y="481.25" font-size="13.7" text-anchor="middle" fill="#000" >2080</text>
<text x="298.19" y="481.25" font-size="13.7" text-anchor="middle" fill="#000" >2090</text>
<text x="334.60" y="481.25" font-size="13.7" text-anchor="middle" fill="#000" >2100</text>
<text x="32.90" y="276.30" font-size="24" text-anchor="start" fill="#000" >(c) SSP585</text>
<polyline points="25.10,352.50 28.74,363.00 32.38,373.70 36.02,362.00 39.66,350.00 43.31,385.60 46.95,363.00 50.59,354.20 54.23,353.00 57.87,328.00 61.51,383.00 65.15,356.70 68.79,353.70 72.44,354.70 76.08,369.70 79.72,356.70 83.36,326.70 87.00,349.20 90.64,344.20 94.28,356.70 97.92,381.70 101.56,319.70 105.21,373.00 108.85,366.70 112.49,363.70 116.13,352.50 119.77,380.40 123.41,385.00 127.05,345.30 130.69,336.70 134.34,386.70 137.98,377.00 141.62,376.70 145.26,354.70 148.90,369.20 152.54,358.30 156.18,364.60 159.82,382.30 163.46,350.00 167.11,359.50 170.75,394.00 174.39,368.00 178.03,324.70 181.67,343.30 185.31,364.20 188.95,360.00 192.59,349.20 196.24,350.80 199.88,331.70 203.52,397.00 207.16,376.70 210.80,383.80 214.44,370.00 218.08,356.70 221.72,368.80 225.36,415.00 229.01,393.00 232.65,385.00 236.29,398.70 239.93,373.30 243.57,390.00 247.21,373.70 250.85,380.00 254.49,385.80 258.14,378.00 261.78,408.00 265.42,365.60 269.06,384.20 272.70,393.00 276.34,383.70 279.98,389.20 283.62,388.30 287.26,354.70 290.91,364.20 294.55,407.00 298.19,397.50 301.83,406.50 305.47,387.50 309.11,400.00 312.75,362.50 316.39,387.50 320.04,392.50 323.68,387.00 327.32,392.00 330.96,370.80 334.60,400.00" fill="none" stroke="#4a84c1" stroke-width="1.9" stroke-linejoin="round" stroke-linecap="butt" />
<polyline points="25.10,351.30 334.60,390.30" fill="none" stroke="#4a84c1" stroke-width="1.9" stroke-linejoin="round" stroke-linecap="butt" stroke-dasharray="6.2,6.3"/>
<text x="224.60" y="326.50" font-size="17" text-anchor="start" fill="#000" >Slope=-0.21<tspan fill="#ff2020">*</tspan></text>
<line x1="363.55" y1="291.45" x2="672.50" y2="291.45" stroke="#111" stroke-width="1.2" />
<line x1="363.55" y1="463.45" x2="672.50" y2="463.45" stroke="#111" stroke-width="1.2" />
<line x1="363.65" y1="290.85" x2="363.65" y2="464.05" stroke="#1a1a1a" stroke-width="1.1" />
<line x1="672.50" y1="290.85" x2="672.50" y2="464.05" stroke="#111" stroke-width="1.2" />
<line x1="359.75" y1="291.45" x2="363.55" y2="291.45" stroke="#111" stroke-width="1.1" />
<line x1="669.20" y1="291.45" x2="672.50" y2="291.45" stroke="#111" stroke-width="1.1" />
<line x1="361.55" y1="312.95" x2="363.55" y2="312.95" stroke="#111" stroke-width="1.1" />
<line x1="671.00" y1="312.95" x2="672.50" y2="312.95" stroke="#111" stroke-width="1.1" />
<line x1="359.75" y1="334.45" x2="363.55" y2="334.45" stroke="#111" stroke-width="1.1" />
<line x1="669.20" y1="334.45" x2="672.50" y2="334.45" stroke="#111" stroke-width="1.1" />
<line x1="361.55" y1="355.95" x2="363.55" y2="355.95" stroke="#111" stroke-width="1.1" />
<line x1="671.00" y1="355.95" x2="672.50" y2="355.95" stroke="#111" stroke-width="1.1" />
<line x1="359.75" y1="377.45" x2="363.55" y2="377.45" stroke="#111" stroke-width="1.1" />
<line x1="669.20" y1="377.45" x2="672.50" y2="377.45" stroke="#111" stroke-width="1.1" />
<line x1="361.55" y1="398.95" x2="363.55" y2="398.95" stroke="#111" stroke-width="1.1" />
<line x1="671.00" y1="398.95" x2="672.50" y2="398.95" stroke="#111" stroke-width="1.1" />
<line x1="359.75" y1="420.45" x2="363.55" y2="420.45" stroke="#111" stroke-width="1.1" />
<line x1="669.20" y1="420.45" x2="672.50" y2="420.45" stroke="#111" stroke-width="1.1" />
<line x1="361.55" y1="441.95" x2="363.55" y2="441.95" stroke="#111" stroke-width="1.1" />
<line x1="671.00" y1="441.95" x2="672.50" y2="441.95" stroke="#111" stroke-width="1.1" />
<line x1="359.75" y1="463.45" x2="363.55" y2="463.45" stroke="#111" stroke-width="1.1" />
<line x1="669.20" y1="463.45" x2="672.50" y2="463.45" stroke="#111" stroke-width="1.1" />
<line x1="367.18" y1="463.45" x2="367.18" y2="465.45" stroke="#111" stroke-width="1.1" />
<line x1="367.18" y1="291.45" x2="367.18" y2="293.45" stroke="#111" stroke-width="1.1" />
<line x1="374.45" y1="463.45" x2="374.45" y2="465.45" stroke="#111" stroke-width="1.1" />
<line x1="374.45" y1="291.45" x2="374.45" y2="293.45" stroke="#111" stroke-width="1.1" />
<line x1="381.72" y1="463.45" x2="381.72" y2="467.25" stroke="#111" stroke-width="1.1" />
<line x1="381.72" y1="291.45" x2="381.72" y2="294.45" stroke="#111" stroke-width="1.1" />
<line x1="388.99" y1="463.45" x2="388.99" y2="465.45" stroke="#111" stroke-width="1.1" />
<line x1="388.99" y1="291.45" x2="388.99" y2="293.45" stroke="#111" stroke-width="1.1" />
<line x1="396.26" y1="463.45" x2="396.26" y2="465.45" stroke="#111" stroke-width="1.1" />
<line x1="396.26" y1="291.45" x2="396.26" y2="293.45" stroke="#111" stroke-width="1.1" />
<line x1="403.53" y1="463.45" x2="403.53" y2="465.45" stroke="#111" stroke-width="1.1" />
<line x1="403.53" y1="291.45" x2="403.53" y2="293.45" stroke="#111" stroke-width="1.1" />
<line x1="410.80" y1="463.45" x2="410.80" y2="465.45" stroke="#111" stroke-width="1.1" />
<line x1="410.80" y1="291.45" x2="410.80" y2="293.45" stroke="#111" stroke-width="1.1" />
<line x1="418.07" y1="463.45" x2="418.07" y2="467.25" stroke="#111" stroke-width="1.1" />
<line x1="418.07" y1="291.45" x2="418.07" y2="294.45" stroke="#111" stroke-width="1.1" />
<line x1="425.34" y1="463.45" x2="425.34" y2="465.45" stroke="#111" stroke-width="1.1" />
<line x1="425.34" y1="291.45" x2="425.34" y2="293.45" stroke="#111" stroke-width="1.1" />
<line x1="432.61" y1="463.45" x2="432.61" y2="465.45" stroke="#111" stroke-width="1.1" />
<line x1="432.61" y1="291.45" x2="432.61" y2="293.45" stroke="#111" stroke-width="1.1" />
<line x1="439.88" y1="463.45" x2="439.88" y2="465.45" stroke="#111" stroke-width="1.1" />
<line x1="439.88" y1="291.45" x2="439.88" y2="293.45" stroke="#111" stroke-width="1.1" />
<line x1="447.15" y1="463.45" x2="447.15" y2="465.45" stroke="#111" stroke-width="1.1" />
<line x1="447.15" y1="291.45" x2="447.15" y2="293.45" stroke="#111" stroke-width="1.1" />
<line x1="454.42" y1="463.45" x2="454.42" y2="467.25" stroke="#111" stroke-width="1.1" />
<line x1="454.42" y1="291.45" x2="454.42" y2="294.45" stroke="#111" stroke-width="1.1" />
<line x1="461.69" y1="463.45" x2="461.69" y2="465.45" stroke="#111" stroke-width="1.1" />
<line x1="461.69" y1="291.45" x2="461.69" y2="293.45" stroke="#111" stroke-width="1.1" />
<line x1="468.96" y1="463.45" x2="468.96" y2="465.45" stroke="#111" stroke-width="1.1" />
<line x1="468.96" y1="291.45" x2="468.96" y2="293.45" stroke="#111" stroke-width="1.1" />
<line x1="476.23" y1="463.45" x2="476.23" y2="465.45" stroke="#111" stroke-width="1.1" />
<line x1="476.23" y1="291.45" x2="476.23" y2="293.45" stroke="#111" stroke-width="1.1" />
<line x1="483.50" y1="463.45" x2="483.50" y2="465.45" stroke="#111" stroke-width="1.1" />
<line x1="483.50" y1="291.45" x2="483.50" y2="293.45" stroke="#111" stroke-width="1.1" />
<line x1="490.76" y1="463.45" x2="490.76" y2="467.25" stroke="#111" stroke-width="1.1" />
<line x1="490.76" y1="291.45" x2="490.76" y2="294.45" stroke="#111" stroke-width="1.1" />
<line x1="498.03" y1="463.45" x2="498.03" y2="465.45" stroke="#111" stroke-width="1.1" />
<line x1="498.03" y1="291.45" x2="498.03" y2="293.45" stroke="#111" stroke-width="1.1" />
<line x1="505.30" y1="463.45" x2="505.30" y2="465.45" stroke="#111" stroke-width="1.1" />
<line x1="505.30" y1="291.45" x2="505.30" y2="293.45" stroke="#111" stroke-width="1.1" />
<line x1="512.57" y1="463.45" x2="512.57" y2="465.45" stroke="#111" stroke-width="1.1" />
<line x1="512.57" y1="291.45" x2="512.57" y2="293.45" stroke="#111" stroke-width="1.1" />
<line x1="519.84" y1="463.45" x2="519.84" y2="465.45" stroke="#111" stroke-width="1.1" />
<line x1="519.84" y1="291.45" x2="519.84" y2="293.45" stroke="#111" stroke-width="1.1" />
<line x1="527.11" y1="463.45" x2="527.11" y2="467.25" stroke="#111" stroke-width="1.1" />
<line x1="527.11" y1="291.45" x2="527.11" y2="294.45" stroke="#111" stroke-width="1.1" />
<line x1="534.38" y1="463.45" x2="534.38" y2="465.45" stroke="#111" stroke-width="1.1" />
<line x1="534.38" y1="291.45" x2="534.38" y2="293.45" stroke="#111" stroke-width="1.1" />
<line x1="541.65" y1="463.45" x2="541.65" y2="465.45" stroke="#111" stroke-width="1.1" />
<line x1="541.65" y1="291.45" x2="541.65" y2="293.45" stroke="#111" stroke-width="1.1" />
<line x1="548.92" y1="463.45" x2="548.92" y2="465.45" stroke="#111" stroke-width="1.1" />
<line x1="548.92" y1="291.45" x2="548.92" y2="293.45" stroke="#111" stroke-width="1.1" />
<line x1="556.19" y1="463.45" x2="556.19" y2="465.45" stroke="#111" stroke-width="1.1" />
<line x1="556.19" y1="291.45" x2="556.19" y2="293.45" stroke="#111" stroke-width="1.1" />
<line x1="563.46" y1="463.45" x2="563.46" y2="467.25" stroke="#111" stroke-width="1.1" />
<line x1="563.46" y1="291.45" x2="563.46" y2="294.45" stroke="#111" stroke-width="1.1" />
<line x1="570.73" y1="463.45" x2="570.73" y2="465.45" stroke="#111" stroke-width="1.1" />
<line x1="570.73" y1="291.45" x2="570.73" y2="293.45" stroke="#111" stroke-width="1.1" />
<line x1="578.00" y1="463.45" x2="578.00" y2="465.45" stroke="#111" stroke-width="1.1" />
<line x1="578.00" y1="291.45" x2="578.00" y2="293.45" stroke="#111" stroke-width="1.1" />
<line x1="585.27" y1="463.45" x2="585.27" y2="465.45" stroke="#111" stroke-width="1.1" />
<line x1="585.27" y1="291.45" x2="585.27" y2="293.45" stroke="#111" stroke-width="1.1" />
<line x1="592.54" y1="463.45" x2="592.54" y2="465.45" stroke="#111" stroke-width="1.1" />
<line x1="592.54" y1="291.45" x2="592.54" y2="293.45" stroke="#111" stroke-width="1.1" />
<line x1="599.81" y1="463.45" x2="599.81" y2="467.25" stroke="#111" stroke-width="1.1" />
<line x1="599.81" y1="291.45" x2="599.81" y2="294.45" stroke="#111" stroke-width="1.1" />
<line x1="607.08" y1="463.45" x2="607.08" y2="465.45" stroke="#111" stroke-width="1.1" />
<line x1="607.08" y1="291.45" x2="607.08" y2="293.45" stroke="#111" stroke-width="1.1" />
<line x1="614.34" y1="463.45" x2="614.34" y2="465.45" stroke="#111" stroke-width="1.1" />
<line x1="614.34" y1="291.45" x2="614.34" y2="293.45" stroke="#111" stroke-width="1.1" />
<line x1="621.61" y1="463.45" x2="621.61" y2="465.45" stroke="#111" stroke-width="1.1" />
<line x1="621.61" y1="291.45" x2="621.61" y2="293.45" stroke="#111" stroke-width="1.1" />
<line x1="628.88" y1="463.45" x2="628.88" y2="465.45" stroke="#111" stroke-width="1.1" />
<line x1="628.88" y1="291.45" x2="628.88" y2="293.45" stroke="#111" stroke-width="1.1" />
<line x1="636.15" y1="463.45" x2="636.15" y2="467.25" stroke="#111" stroke-width="1.1" />
<line x1="636.15" y1="291.45" x2="636.15" y2="294.45" stroke="#111" stroke-width="1.1" />
<line x1="643.42" y1="463.45" x2="643.42" y2="465.45" stroke="#111" stroke-width="1.1" />
<line x1="643.42" y1="291.45" x2="643.42" y2="293.45" stroke="#111" stroke-width="1.1" />
<line x1="650.69" y1="463.45" x2="650.69" y2="465.45" stroke="#111" stroke-width="1.1" />
<line x1="650.69" y1="291.45" x2="650.69" y2="293.45" stroke="#111" stroke-width="1.1" />
<line x1="657.96" y1="463.45" x2="657.96" y2="465.45" stroke="#111" stroke-width="1.1" />
<line x1="657.96" y1="291.45" x2="657.96" y2="293.45" stroke="#111" stroke-width="1.1" />
<line x1="665.23" y1="463.45" x2="665.23" y2="465.45" stroke="#111" stroke-width="1.1" />
<line x1="665.23" y1="291.45" x2="665.23" y2="293.45" stroke="#111" stroke-width="1.1" />
<line x1="672.50" y1="463.45" x2="672.50" y2="467.25" stroke="#111" stroke-width="1.1" />
<line x1="672.50" y1="291.45" x2="672.50" y2="294.45" stroke="#111" stroke-width="1.1" />
<text x="357.65" y="295.75" font-size="13.8" text-anchor="end" fill="#000" >2</text>
<text x="357.65" y="338.75" font-size="13.8" text-anchor="end" fill="#000" >0</text>
<text x="357.65" y="381.75" font-size="13.8" text-anchor="end" fill="#000" >-2</text>
<text x="357.65" y="424.75" font-size="13.8" text-anchor="end" fill="#000" >-4</text>
<text x="357.65" y="467.75" font-size="13.8" text-anchor="end" fill="#000" >-6</text>
<text x="381.72" y="481.25" font-size="13.7" text-anchor="middle" fill="#000" >2020</text>
<text x="418.07" y="481.25" font-size="13.7" text-anchor="middle" fill="#000" >2030</text>
<text x="454.42" y="481.25" font-size="13.7" text-anchor="middle" fill="#000" >2040</text>
<text x="490.76" y="481.25" font-size="13.7" text-anchor="middle" fill="#000" >2050</text>
<text x="527.11" y="481.25" font-size="13.7" text-anchor="middle" fill="#000" >2060</text>
<text x="563.46" y="481.25" font-size="13.7" text-anchor="middle" fill="#000" >2070</text>
<text x="599.81" y="481.25" font-size="13.7" text-anchor="middle" fill="#000" >2080</text>
<text x="636.15" y="481.25" font-size="13.7" text-anchor="middle" fill="#000" >2090</text>
<text x="672.50" y="481.25" font-size="13.7" text-anchor="middle" fill="#000" >2100</text>
<text x="371.90" y="277.40" font-size="24" text-anchor="start" fill="#000" >(d) SSP245</text>
<polyline points="363.55,364.20 367.18,351.30 370.82,345.80 374.45,349.20 378.09,335.00 381.72,355.80 385.36,376.70 388.99,360.80 392.63,390.80 396.26,390.80 399.90,348.50 403.53,409.40 407.17,385.50 410.80,361.70 414.44,385.30 418.07,392.50 421.71,409.80 425.34,357.50 428.97,392.00 432.61,400.70 436.24,383.50 439.88,351.30 443.51,373.70 447.15,349.20 450.78,345.80 454.42,353.30 458.05,370.70 461.69,388.20 465.32,377.60 468.96,363.00 472.59,348.50 476.23,361.70 479.86,375.00 483.50,341.40 487.13,368.00 490.76,315.60 494.40,364.60" fill="none" stroke="#f5923a" stroke-width="1.9" stroke-linejoin="round" stroke-linecap="butt" />
<polyline points="494.40,364.60 498.03,346.90 501.67,375.60 505.30,386.00 508.94,358.10 512.57,366.25 516.21,363.10 519.84,359.60 523.48,363.00 527.11,357.25 530.75,358.50 534.38,375.25 538.02,360.40 541.65,345.60 545.29,367.50 548.92,388.00 552.55,383.75 556.19,400.50 559.82,368.50 563.46,400.50 567.09,362.50 570.73,360.20 574.36,393.60 578.00,374.40 581.63,366.90 585.27,357.75 588.90,356.25 592.54,334.50 596.17,395.00 599.81,405.50 603.44,385.00 607.08,349.20 610.71,407.00 614.34,358.30 617.98,374.70 621.61,382.80 625.25,374.60 628.88,343.00 632.52,372.50 636.15,360.80 639.79,364.20 643.42,371.60 647.06,365.10 650.69,369.00 654.33,396.00 657.96,399.50 661.60,366.60 665.23,367.20 668.87,402.00 672.50,369.00" fill="none" stroke="#4a84c1" stroke-width="1.9" stroke-linejoin="round" stroke-linecap="butt" />
<polyline points="363.55,370.50 490.76,363.80" fill="none" stroke="#f5923a" stroke-width="1.9" stroke-linejoin="round" stroke-linecap="butt" stroke-dasharray="6.2,6.6"/>
<polyline points="494.40,365.50 672.50,377.90" fill="none" stroke="#4a84c1" stroke-width="1.9" stroke-linejoin="round" stroke-linecap="butt" stroke-dasharray="5.9,5.8"/>
<text x="381.50" y="327.00" font-size="17" text-anchor="start" fill="#000" >Slope=0.09</text>
<text x="565.80" y="326.20" font-size="17" text-anchor="start" fill="#000" >Slope=-0.11</text>
</svg>
</body></html>
